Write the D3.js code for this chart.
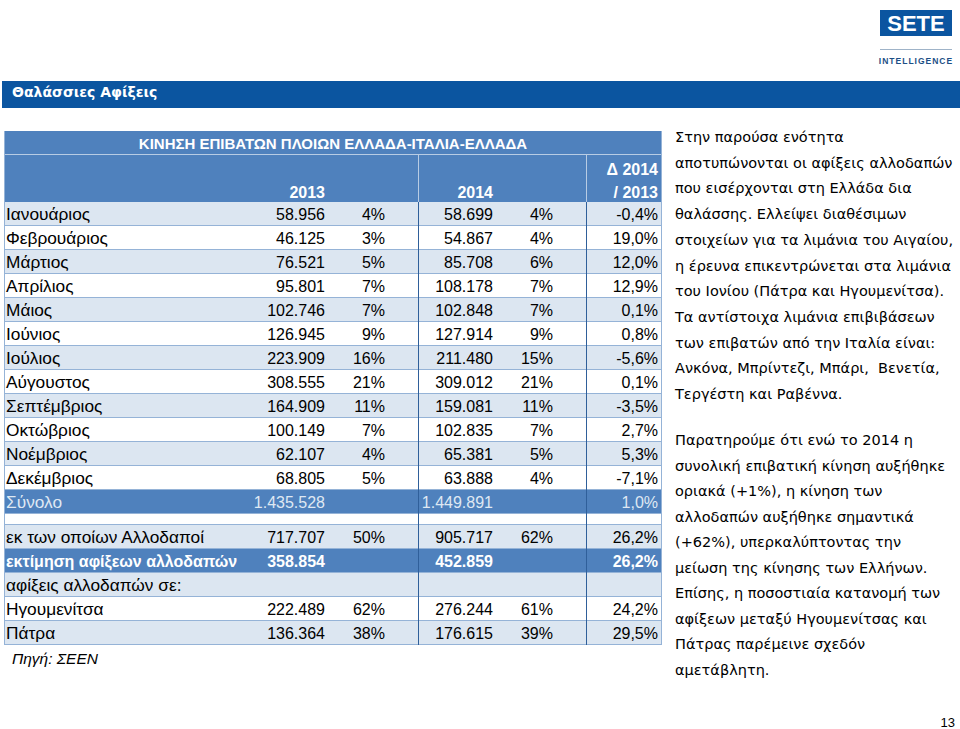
<!DOCTYPE html>
<html><head><meta charset="utf-8">
<script src="https://cdn.jsdelivr.net/npm/d3@7"></script>
<style>
html,body{margin:0;padding:0;background:#fff;}
svg{display:block;}
text{white-space:pre;}
</style></head>
<body>
<svg id="c" width="960" height="729"></svg>
<script>
// ---------- data ----------
const pageTitle = "Θαλάσσιες Αφίξεις";
const tableTitle = "ΚΙΝΗΣΗ ΕΠΙΒΑΤΩΝ ΠΛΟΙΩΝ ΕΛΛΑΔΑ-ΙΤΑΛΙΑ-ΕΛΛΑΔΑ";
const yearHeaders = ["2013", "2014"];
const deltaHeader = ["Δ 2014", "/ 2013"];
const months = ["Ιανουάριος","Φεβρουάριος","Μάρτιος","Απρίλιος","Μάιος","Ιούνιος","Ιούλιος","Αύγουστος","Σεπτέμβριος","Οκτώβριος","Νοέμβριος","Δεκέμβριος"];
const pax2013 = [58956,46125,76521,95801,102746,126945,223909,308555,164909,100149,62107,68805];
const share2013 = [4,3,5,7,7,9,16,21,11,7,4,5];
const pax2014 = [58699,54867,85708,108178,102848,127914,211480,309012,159081,102835,65381,63888];
const share2014 = [4,4,6,7,7,9,15,21,11,7,5,4];
const change = [-0.4,19.0,12.0,12.9,0.1,0.8,-5.6,0.1,-3.5,2.7,5.3,-7.1];
const totalLabel = "Σύνολο";
const total2013 = 1435528, total2014 = 1449891, totalChange = 1.0;
const extraLabels = ["εκ των οποίων Αλλοδαποί","εκτίμηση αφίξεων αλλοδαπών","αφίξεις αλλοδαπών σε:","Ηγουμενίτσα","Πάτρα"];
const extra2013 = [717707,358854,null,222489,136364];
const extraShare2013 = [50,null,null,62,38];
const extra2014 = [905717,452859,null,276244,176615];
const extraShare2014 = [62,null,null,61,39];
const extraChange = [26.2,26.2,null,24.2,29.5];
const sourceNote = "Πηγή: ΣΕΕΝ";
const para1 = ["Στην παρούσα ενότητα","αποτυπώνονται οι αφίξεις αλλοδαπών","που εισέρχονται στη Ελλάδα δια","θαλάσσης. Ελλείψει διαθέσιμων","στοιχείων για τα λιμάνια του Αιγαίου,","η έρευνα επικεντρώνεται στα λιμάνια","του Ιονίου (Πάτρα και Ηγουμενίτσα).","Τα αντίστοιχα λιμάνια επιβιβάσεων","των επιβατών από την Ιταλία είναι:","Ανκόνα, Μπρίντεζι, Μπάρι,  Βενετία,","Τεργέστη και Ραβέννα."];
const para2 = ["Παρατηρούμε ότι ενώ το 2014 η","συνολική επιβατική κίνηση αυξήθηκε","οριακά (+1%), η κίνηση των","αλλοδαπών αυξήθηκε σημαντικά","(+62%), υπερκαλύπτοντας την","μείωση της κίνησης των Ελλήνων.","Επίσης, η ποσοστιαία κατανομή των","αφίξεων μεταξύ Ηγουμενίτσας και","Πάτρας παρέμεινε σχεδόν","αμετάβλητη."];
const pageNumber = "13";

// ---------- formatting ----------
const loc = d3.formatLocale({decimal:",", thousands:".", grouping:[3], currency:["","€"], minus:"-"});
const fInt = loc.format(",d");
const fPct = v => v == null ? "" : v + "%";
const fChg = v => v == null ? "" : loc.format(".1f")(v) + "%";
const fNum = v => v == null ? "" : fInt(v);

// ---------- layout ----------
const svg = d3.select("#c");
const FONT_T = "'Liberation Sans', Arial, sans-serif";
const FONT_V = "'DejaVu Sans', Verdana, sans-serif";
const BLUE = "#4f81bd", LIGHT = "#dce6f1", LINE = "#95b3d7", DARK = "#0b55a0";
const tableL = 4, tableR = 662;

// logo
svg.append("rect").attr("x",880).attr("y",10).attr("width",72).attr("height",26).attr("fill",DARK);
svg.append("text").attr("x",916).attr("y",31).attr("text-anchor","middle").attr("fill","#fff")
  .attr("font-family",FONT_T).attr("font-weight","bold").attr("font-size",22).text("SETE");
svg.append("line").attr("x1",880).attr("x2",952).attr("y1",49.5).attr("y2",49.5).attr("stroke","#9fb3c8").attr("stroke-width",1);
svg.append("text").attr("x",916).attr("y",64).attr("text-anchor","middle").attr("fill","#1d4f86")
  .attr("font-family",FONT_T).attr("font-weight","bold").attr("font-size",8.5).attr("letter-spacing",1).text("INTELLIGENCE");

// title bar
svg.append("rect").attr("x",2).attr("y",81).attr("width",958).attr("height",27).attr("fill",DARK);
svg.append("text").attr("x",12).attr("y",96.5).attr("fill","#fff").attr("font-family",FONT_V)
  .attr("font-weight","bold").attr("font-size",14).text(pageTitle);

// columns (right edge of each cell's text)
const colX = d3.scaleOrdinal().domain(["v13","s13","v14","s14","chg"]).range([325,385,493,553,658]);

// header
const h1 = {y0:131, y1:154}, h2 = {y0:154, y1:202};
svg.append("rect").attr("x",tableL).attr("y",h1.y0).attr("width",tableR-tableL).attr("height",h2.y1-h1.y0).attr("fill",BLUE);
svg.append("line").attr("x1",tableL).attr("x2",tableR).attr("y1",h1.y1+0.5).attr("y2",h1.y1+0.5).attr("stroke","#b8cce4");
svg.append("text").attr("x",333).attr("y",148.5).attr("text-anchor","middle").attr("fill","#fff")
  .attr("font-family",FONT_T).attr("font-weight","bold").attr("font-size",15).text(tableTitle);
svg.selectAll("text.yh").data(yearHeaders).join("text").attr("class","yh")
  .attr("x",(d,i)=>colX(i===0?"v13":"v14")).attr("y",198).attr("text-anchor","end").attr("fill","#fff")
  .attr("font-family",FONT_T).attr("font-weight","bold").attr("font-size",16).text(d=>d);
svg.selectAll("text.dh").data(deltaHeader).join("text").attr("class","dh")
  .attr("x",colX("chg")).attr("y",(d,i)=>175+i*23).attr("text-anchor","end").attr("fill","#fff")
  .attr("font-family",FONT_T).attr("font-weight","bold").attr("font-size",16).text(d=>d);

// body rows
const mainRows = months.map((m,i)=>({label:m, v13:pax2013[i], s13:share2013[i], v14:pax2014[i], s14:share2014[i], chg:change[i], style: i%2===0?"light":"white"}));
mainRows.push({label:totalLabel, v13:total2013, s13:null, v14:total2014, s14:null, chg:totalChange, style:"total"});
const extraStyles = ["light","strong","light","white","light"];
const extraRows = extraLabels.map((l,i)=>({label:l, v13:extra2013[i], s13:extraShare2013[i], v14:extra2014[i], s14:extraShare2014[i], chg:extraChange[i], style:extraStyles[i]}));

const yMain = d3.scaleBand().domain(d3.range(mainRows.length)).range([202,514]);
const yExtra = d3.scaleBand().domain(d3.range(extraRows.length)).range([525,645]);

function drawRows(rows, y, cls){
  const g = svg.selectAll("g."+cls).data(rows).join("g").attr("class",cls)
    .attr("transform",(d,i)=>`translate(0,${y(i)})`);
  g.append("rect").attr("x",tableL).attr("width",tableR-tableL).attr("height",y.bandwidth())
    .attr("fill",d=>d.style==="light"?LIGHT:(d.style==="white"?"#fff":BLUE));
  g.append("line").attr("x1",tableL).attr("x2",tableR).attr("y1",y.bandwidth()-0.5).attr("y2",y.bandwidth()-0.5)
    .attr("stroke",LINE).attr("stroke-width",1);
  const col = d=>d.style==="strong"?"#fff":(d.style==="total"?"#dfe8f3":"#000");
  const wt = d=>d.style==="strong"?"bold":"normal";
  const txt = (sel)=>sel.attr("y",17.5).attr("font-family",FONT_T).attr("font-size",16).attr("fill",col).attr("font-weight",wt);
  g.append("text").attr("x",6).call(txt).attr("font-size",d=>d.style==="strong"?16:17.3).text(d=>d.label);
  g.append("text").attr("x",colX("v13")).attr("text-anchor","end").call(txt).text(d=>fNum(d.v13));
  g.append("text").attr("x",colX("s13")).attr("text-anchor","end").call(txt).text(d=>fPct(d.s13));
  g.append("text").attr("x",colX("v14")).attr("text-anchor","end").call(txt).text(d=>fNum(d.v14));
  g.append("text").attr("x",colX("s14")).attr("text-anchor","end").call(txt).text(d=>fPct(d.s14));
  g.append("text").attr("x",colX("chg")).attr("text-anchor","end").call(txt).text(d=>fChg(d.chg));
}
drawRows(mainRows, yMain, "mrow");
// blank spacer row separator
svg.append("line").attr("x1",tableL).attr("x2",tableR).attr("y1",524.5).attr("y2",524.5).attr("stroke",LINE);
drawRows(extraRows, yExtra, "xrow");

// vertical separators
[418,586].forEach(x=>{
  svg.append("line").attr("x1",x+0.5).attr("x2",x+0.5).attr("y1",h1.y1).attr("y2",h2.y1).attr("stroke","#b8cce4");
  svg.append("line").attr("x1",x+0.5).attr("x2",x+0.5).attr("y1",h2.y1).attr("y2",645).attr("stroke","#2f5f9a");
});
// outer borders
svg.append("line").attr("x1",tableL+0.5).attr("x2",tableL+0.5).attr("y1",h1.y0).attr("y2",645).attr("stroke",LINE);
svg.append("line").attr("x1",tableR-0.5).attr("x2",tableR-0.5).attr("y1",h1.y0).attr("y2",645).attr("stroke",LINE);

// source
svg.append("text").attr("x",12).attr("y",664).attr("font-family",FONT_T).attr("font-style","italic")
  .attr("font-size",15.5).attr("fill","#000").text(sourceNote);

// side text
svg.selectAll("text.p1").data(para1).join("text").attr("class","p1")
  .attr("x",675).attr("y",(d,i)=>142+i*25.7).attr("font-family",FONT_V).attr("font-size",14.5).attr("fill","#000").text(d=>d);
svg.selectAll("text.p2").data(para2).join("text").attr("class","p2")
  .attr("x",675).attr("y",(d,i)=>445+i*25.5).attr("font-family",FONT_V).attr("font-size",14.5).attr("fill","#000").text(d=>d);

svg.append("text").attr("x",955).attr("y",727).attr("text-anchor","end").attr("font-family",FONT_T)
  .attr("font-size",13).attr("fill","#000").text(pageNumber);
</script>
</body></html>
